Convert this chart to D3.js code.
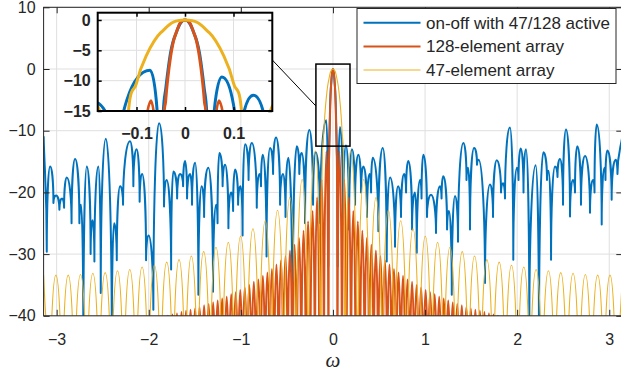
<!DOCTYPE html>
<html>
<head>
<meta charset="utf-8">
<script src="https://cdn.jsdelivr.net/npm/d3@7"></script>
<style>
  body { margin: 0; background: #fff; }
  svg { display: block; }
  text { font-family: "Liberation Sans", Arial, Helvetica, sans-serif; fill: #262626; }
</style>
</head>
<body>
<div id="chart"></div>
<script>
const width = 621, height = 374;

// ticks
const xTicks = [-3, -2, -1, 0, 1, 2, 3];
const yTicks = [-40, -30, -20, -10, 0, 10];
const insetXTicks = [-0.1, 0, 0.1];
const insetYTicks = [-15, -10, -5, 0];

const seriesNames = ['on-off with 47/128 active', '128-element array', '47-element array'];
const seriesColors = ['#0072BD', '#D95319', '#EDB120'];

// on-off array, peaks and dips: [omega, dB]
const onOff = [
  [-3.1416, -10.9], [-3.107, -29.6], [-3.071, -15.8], [-3.035, -21.7], [-3.006, -20.5], [-2.970, -22.8],
  [-2.941, -21.0], [-2.919, -22.5], [-2.890, -17.6], [-2.838, -25.0], [-2.800, -14.6], [-2.753, -25.0],
  [-2.735, -22.0], [-2.710, -45], [-2.673, -15.8], [-2.631, -30.0], [-2.610, -24.5], [-2.590, -31.2],
  [-2.547, -15.8], [-2.521, -36.3], [-2.466, -11.3], [-2.401, -45], [-2.376, -25], [-2.347, -31],
  [-2.311, -19], [-2.279, -22], [-2.203, -11.7], [-2.167, -19], [-2.132, -13], [-2.099, -21.5],
  [-2.072, -17], [-2.029, -31], [-2.002, -27], [-1.950, -39], [-1.888, -8.8], [-1.834, -22.3],
  [-1.806, -18], [-1.757, -32.5], [-1.733, -16.6], [-1.692, -21], [-1.660, -17], [-1.627, -19],
  [-1.606, -14.9], [-1.584, -21], [-1.551, -17], [-1.530, -22], [-1.497, -15.2], [-1.461, -36.6],
  [-1.426, -19], [-1.399, -24], [-1.353, -16.0], [-1.302, -36.1], [-1.269, -22], [-1.253, -25],
  [-1.233, -13.6], [-1.198, -19], [-1.171, -15.5], [-1.135, -25.8], [-1.106, -20], [-1.084, -23],
  [-1.063, -16.3], [-1.030, -22], [-1.003, -19], [-0.981, -27], [-0.954, -12.2], [-0.916, -18],
  [-0.881, -12.0], [-0.827, -22.5], [-0.797, -17], [-0.781, -19], [-0.762, -13.9], [-0.721, -30.4],
  [-0.683, -12.8], [-0.650, -17], [-0.618, -11.1], [-0.574, -22], [-0.542, -17], [-0.515, -24],
  [-0.484, -14.4], [-0.439, -45], [-0.393, -12.5], [-0.365, -17], [-0.339, -13.6], [-0.303, -25],
  [-0.256, -9.9], [-0.216, -22], [-0.189, -13.5], [-0.140, -25], [-0.072, -8.3], [-0.051, -32],
  [-0.045, -15.5], [-0.040, -11.5], [-0.030, -5.5], [-0.020, -2.5], [0, 0], [0.020, -2.5], [0.030, -5.5],
  [0.040, -11.5], [0.045, -15.5], [0.052, -32], [0.076, -9.4], [0.110, -25], [0.141, -12.4], [0.175, -26],
  [0.207, -13], [0.240, -22], [0.276, -13.9], [0.305, -20], [0.330, -15.8], [0.370, -24], [0.397, -17],
  [0.414, -20], [0.432, -14.4], [0.493, -26.3], [0.541, -12.8], [0.584, -31.2], [0.620, -17.6],
  [0.674, -28.8], [0.707, -19], [0.739, -24], [0.772, -17], [0.794, -20], [0.818, -14.9],
  [0.859, -26], [0.891, -20], [0.910, -29.8], [0.946, -18], [0.962, -21], [0.981, -13.9],
  [1.021, -24], [1.065, -20.4], [1.119, -26.6], [1.162, -19], [1.179, -21], [1.198, -17.4],
  [1.239, -26], [1.260, -23], [1.290, -36.6], [1.325, -20.6], [1.358, -28], [1.416, -12.0],
  [1.450, -18], [1.467, -16], [1.488, -26], [1.532, -12.8], [1.564, -15.5], [1.581, -14.7],
  [1.651, -34.7], [1.705, -18.7], [1.738, -24], [1.778, -14.8], [1.825, -20], [1.846, -18.5],
  [1.868, -21], [1.922, -9.5], [1.958, -30.9], [1.998, -16], [2.015, -18], [2.039, -12.9],
  [2.069, -20], [2.096, -13.0], [2.132, -42], [2.201, -15.6], [2.237, -45], [2.284, -13.5],
  [2.324, -18], [2.340, -16.5], [2.368, -30.9], [2.411, -15.8], [2.438, -17.5], [2.465, -14.6],
  [2.498, -22], [2.530, -9.8], [2.574, -23.9], [2.606, -18], [2.628, -20], [2.653, -12.5],
  [2.693, -22], [2.737, -14.1], [2.791, -23.3], [2.824, -18], [2.840, -20], [2.864, -9.0],
  [2.918, -25.2], [2.948, -16], [2.959, -18], [2.979, -13.2], [3.026, -21.2], [3.070, -14.7],
  [3.089, -17], [3.1416, -10.9]
];

// 128-element array: lobe peaks and nulls (nulls fall below the axis)
const full128 = [
  [-1.8162, -60], [-1.7917, -40.0], [-1.7671, -60], [-1.7426, -39.8], [-1.7181, -60], [-1.6935, -39.6],
  [-1.6690, -60], [-1.6444, -39.4], [-1.6199, -60], [-1.5953, -39.2], [-1.5708, -60], [-1.5462, -39.0],
  [-1.5217, -60], [-1.4972, -38.8], [-1.4726, -60], [-1.4481, -38.6], [-1.4235, -60], [-1.3990, -38.3],
  [-1.3744, -60], [-1.3499, -38.1], [-1.3254, -60], [-1.3008, -37.8], [-1.2763, -60], [-1.2517, -37.5],
  [-1.2272, -60], [-1.2026, -37.2], [-1.1781, -60], [-1.1536, -36.9], [-1.1290, -60], [-1.1045, -36.5],
  [-1.0799, -60], [-1.0554, -36.2], [-1.0308, -60], [-1.0063, -35.8], [-0.9817, -60], [-0.9572, -35.4],
  [-0.9327, -60], [-0.9081, -35.0], [-0.8836, -60], [-0.8590, -34.5], [-0.8345, -60], [-0.8099, -34.1],
  [-0.7854, -60], [-0.7609, -33.5], [-0.7363, -60], [-0.7118, -33.0], [-0.6872, -60], [-0.6627, -32.4],
  [-0.6381, -60], [-0.6136, -31.7], [-0.5890, -60], [-0.5645, -31.0], [-0.5400, -60], [-0.5154, -30.3],
  [-0.4909, -60], [-0.4663, -29.4], [-0.4418, -60], [-0.4172, -28.5], [-0.3927, -60], [-0.3682, -27.4],
  [-0.3436, -60], [-0.3191, -26.2], [-0.2945, -60], [-0.2700, -24.7], [-0.2454, -60], [-0.2209, -23.0],
  [-0.1963, -60], [-0.1718, -20.8], [-0.1473, -60], [-0.1227, -17.9], [-0.0982, -60], [-0.0700, -13.3],
  [-0.0491, -60], [-0.045, -20.9], [-0.040, -13.4], [-0.030, -6.2], [-0.020, -2.5], [0, 0],
  [0.020, -2.5], [0.030, -6.2], [0.040, -13.4], [0.045, -20.9], [0.0491, -60],
  [0.0700, -13.3], [0.0982, -60], [0.1227, -17.9], [0.1473, -60], [0.1718, -20.8], [0.1963, -60],
  [0.2209, -23.0], [0.2454, -60], [0.2700, -24.7], [0.2945, -60], [0.3191, -26.2], [0.3436, -60],
  [0.3682, -27.4], [0.3927, -60], [0.4172, -28.5], [0.4418, -60], [0.4663, -29.4], [0.4909, -60],
  [0.5154, -30.3], [0.5400, -60], [0.5645, -31.0], [0.5890, -60], [0.6136, -31.7], [0.6381, -60],
  [0.6627, -32.4], [0.6872, -60], [0.7118, -33.0], [0.7363, -60], [0.7609, -33.5], [0.7854, -60],
  [0.8099, -34.1], [0.8345, -60], [0.8590, -34.5], [0.8836, -60], [0.9081, -35.0], [0.9327, -60],
  [0.9572, -35.4], [0.9817, -60], [1.0063, -35.8], [1.0308, -60], [1.0554, -36.2], [1.0799, -60],
  [1.1045, -36.5], [1.1290, -60], [1.1536, -36.9], [1.1781, -60], [1.2026, -37.2], [1.2272, -60],
  [1.2517, -37.5], [1.2763, -60], [1.3008, -37.8], [1.3254, -60], [1.3499, -38.1], [1.3744, -60],
  [1.3990, -38.3], [1.4235, -60], [1.4481, -38.6], [1.4726, -60], [1.4972, -38.8], [1.5217, -60],
  [1.5462, -39.0], [1.5708, -60], [1.5953, -39.2], [1.6199, -60], [1.6444, -39.4], [1.6690, -60],
  [1.6935, -39.6], [1.7181, -60], [1.7426, -39.8], [1.7671, -60], [1.7917, -40.0], [1.8162, -60]
];

// 47-element array: lobe peaks and nulls
const full47 = [
  [-3.1416, -33.4], [-3.0746, -60], [-3.0080, -33.4], [-2.9410, -60], [-2.8743, -33.4], [-2.8073, -60],
  [-2.7406, -33.3], [-2.6736, -60], [-2.6069, -33.1], [-2.5399, -60], [-2.4732, -33.0], [-2.4062, -60],
  [-2.3395, -32.7], [-2.2726, -60], [-2.2058, -32.5], [-2.1389, -60], [-2.0721, -32.1], [-2.0052, -60],
  [-1.9384, -31.8], [-1.8715, -60], [-1.8047, -31.3], [-1.7378, -60], [-1.6710, -30.9], [-1.6042, -60],
  [-1.5374, -30.3], [-1.4705, -60], [-1.4037, -29.6], [-1.3368, -60], [-1.2700, -28.9], [-1.2031, -60],
  [-1.1363, -28.1], [-1.0694, -60], [-1.0026, -27.1], [-0.9358, -60], [-0.8689, -25.9], [-0.8021, -60],
  [-0.7352, -24.6], [-0.6684, -60], [-0.6016, -22.9], [-0.5347, -60], [-0.4679, -20.8], [-0.4010, -60],
  [-0.3342, -17.9], [-0.2674, -60], [-0.1910, -13.3], [-0.1337, -60], [-0.120, -19.0], [-0.100, -10.4],
  [-0.080, -5.9], [-0.050, -2.1], [0, 0], [0.050, -2.1], [0.080, -5.9], [0.100, -10.4], [0.120, -19.0],
  [0.1337, -60], [0.1910, -13.3], [0.2674, -60], [0.3342, -17.9], [0.4010, -60], [0.4679, -20.8],
  [0.5347, -60], [0.6016, -22.9], [0.6684, -60], [0.7352, -24.6], [0.8021, -60], [0.8689, -25.9],
  [0.9358, -60], [1.0026, -27.1], [1.0694, -60], [1.1363, -28.1], [1.2031, -60], [1.2700, -28.9],
  [1.3368, -60], [1.4037, -29.6], [1.4705, -60], [1.5374, -30.3], [1.6042, -60], [1.6710, -30.9],
  [1.7378, -60], [1.8047, -31.3], [1.8715, -60], [1.9384, -31.8], [2.0052, -60], [2.0721, -32.1],
  [2.1389, -60], [2.2058, -32.5], [2.2726, -60], [2.3395, -32.7], [2.4062, -60], [2.4732, -33.0],
  [2.5399, -60], [2.6069, -33.1], [2.6736, -60], [2.7406, -33.3], [2.8073, -60], [2.8743, -33.4],
  [2.9410, -60], [3.0080, -33.4], [3.0746, -60], [3.1416, -33.4]
];

// zoom rectangle on the main axes [omega0, omega1, dB0, dB1]
const zoomBox = [-0.185, 0.185, -12.5, 0.8];

const svg = d3.select('#chart').append('svg').attr('width', width).attr('height', height);

const x = d3.scaleLinear().domain([-Math.PI, Math.PI]).range([43.6, 622.3]);
const y = d3.scaleLinear().domain([-40, 10]).range([315.8, 7.3]);

// lobe-shaped path: round tops, cusps at nulls, smooth through other points
function lobePath(pts, xs, ys) {
  const p = pts.map(d => [xs(d[0]), ys(d[1])]);
  const n = p.length;
  const kind = p.map((d, i) => {
    if (i === 0 || i === n - 1) return 's';
    if (p[i - 1][1] > d[1] && p[i + 1][1] > d[1]) return 'peak';
    if (p[i - 1][1] < d[1] && p[i + 1][1] < d[1]) return 'dip';
    return 's';
  });
  const K = 0.55;
  function ctrl(i, j) {
    const P = p[i], Q = p[j];
    const dx = Q[0] - P[0], dy = Q[1] - P[1];
    if (kind[i] === 'peak') return [P[0] + K * dx, P[1]];
    if (kind[i] === 'dip') return [P[0], P[1] + K * dy];
    const a = p[Math.max(i - 1, 0)], b = p[Math.min(i + 1, n - 1)];
    const s = (b[1] - a[1]) / (b[0] - a[0]);
    return [P[0] + dx / 3, P[1] + s * dx / 3];
  }
  const path = d3.path();
  path.moveTo(p[0][0], p[0][1]);
  for (let i = 0; i < n - 1; i++) {
    const c1 = ctrl(i, i + 1), c2 = ctrl(i + 1, i);
    path.bezierCurveTo(c1[0], c1[1], c2[0], c2[1], p[i + 1][0], p[i + 1][1]);
  }
  return path.toString();
}

const defs = svg.append('defs');
defs.append('clipPath').attr('id', 'clipMain').append('rect')
  .attr('x', x(-Math.PI)).attr('y', y(10))
  .attr('width', x(Math.PI) - x(-Math.PI)).attr('height', y(-40) - y(10));

// grid
const grid = svg.append('g').attr('stroke', '#dfdfdf').attr('stroke-width', 1);
grid.selectAll('.gx').data(xTicks).enter().append('line')
  .attr('x1', d => x(d)).attr('x2', d => x(d)).attr('y1', y(-40)).attr('y2', y(10));
grid.selectAll('.gy').data(yTicks).enter().append('line')
  .attr('y1', d => y(d)).attr('y2', d => y(d)).attr('x1', x(-Math.PI)).attr('x2', x(Math.PI));

// series
const plot = svg.append('g').attr('clip-path', 'url(#clipMain)').attr('fill', 'none');
const seriesData = [onOff, full128, full47];
const mainWidths = [2, 2, 1.1];
seriesData.forEach((s, i) => {
  plot.append('path').attr('d', lobePath(s, x, y))
    .attr('stroke', seriesColors[i]).attr('stroke-width', mainWidths[i])
    .attr('stroke-linejoin', 'round');
});

// axes
const axisColor = '#262626';
const fmt = d3.format('');
function styleAxis(g) {
  g.select('.domain').remove();
  g.selectAll('.tick line').attr('stroke', axisColor);
  g.selectAll('.tick text').attr('fill', axisColor).style('font-size', '16px')
    .style('font-family', '"Liberation Sans", Arial, sans-serif');
}
svg.append('g').attr('transform', `translate(0,${y(-40)})`)
  .call(d3.axisBottom(x).tickValues(xTicks).tickFormat(fmt).tickSizeInner(-6).tickSizeOuter(0).tickPadding(18))
  .call(styleAxis);
svg.append('g').attr('transform', `translate(0,${y(10)})`)
  .call(d3.axisTop(x).tickValues(xTicks).tickSizeInner(-6).tickSizeOuter(0).tickFormat(''))
  .call(styleAxis);
svg.append('g').attr('transform', `translate(${x(-Math.PI)},0)`)
  .call(d3.axisLeft(y).tickValues(yTicks).tickFormat(fmt).tickSizeInner(-6).tickSizeOuter(0).tickPadding(8))
  .call(styleAxis);
svg.append('g').attr('transform', `translate(${x(Math.PI)},0)`)
  .call(d3.axisRight(y).tickValues(yTicks).tickSizeInner(-6).tickSizeOuter(0).tickFormat(''))
  .call(styleAxis);
svg.append('rect').attr('x', x(-Math.PI)).attr('y', y(10))
  .attr('width', x(Math.PI) - x(-Math.PI)).attr('height', y(-40) - y(10))
  .attr('fill', 'none').attr('stroke', axisColor).attr('stroke-width', 1);

svg.append('text').attr('x', x(0)).attr('y', 367)
  .attr('text-anchor', 'middle')
  .style('font-family', '"Liberation Serif", serif').style('font-style', 'italic').style('font-size', '21px')
  .text('ω');

// zoom rectangle
svg.append('rect')
  .attr('x', x(zoomBox[0])).attr('y', y(zoomBox[3]))
  .attr('width', x(zoomBox[1]) - x(zoomBox[0])).attr('height', y(zoomBox[2]) - y(zoomBox[3]))
  .attr('fill', 'none').attr('stroke', '#000').attr('stroke-width', 1.5);

// legend
const legend = svg.append('g');
legend.append('rect').attr('x', 357).attr('y', 8.5).attr('width', 259).attr('height', 75)
  .attr('fill', '#fff').attr('stroke', axisColor).attr('stroke-width', 1);
const legendRows = [22.7, 46.5, 70];
seriesNames.forEach((name, i) => {
  legend.append('line').attr('x1', 363.5).attr('x2', 420.5)
    .attr('y1', legendRows[i]).attr('y2', legendRows[i])
    .attr('stroke', seriesColors[i]).attr('stroke-width', mainWidths[i]);
  legend.append('text').attr('x', 426).attr('y', legendRows[i]).attr('dy', '0.35em')
    .style('font-size', '17px').text(name);
});

// inset
const xi = d3.scaleLinear().domain([-0.18, 0.18]).range([97.7, 272.3]);
const yi = d3.scaleLinear().domain([-15, 1.2]).range([111, 12.7]);

svg.append('line')
  .attr('x1', xi(0.18)).attr('y1', 60).attr('x2', x(zoomBox[0])).attr('y2', 106)
  .attr('stroke', '#000').attr('stroke-width', 1);

const inset = svg.append('g');
defs.append('clipPath').attr('id', 'clipInset').append('rect')
  .attr('x', xi(-0.18)).attr('y', yi(1.2))
  .attr('width', xi(0.18) - xi(-0.18)).attr('height', yi(-15) - yi(1.2));
inset.append('rect').attr('x', xi(-0.18)).attr('y', yi(1.2))
  .attr('width', xi(0.18) - xi(-0.18)).attr('height', yi(-15) - yi(1.2)).attr('fill', '#fff');
const igrid = inset.append('g').attr('stroke', '#dfdfdf').attr('stroke-width', 1);
igrid.selectAll('.gx').data(insetXTicks).enter().append('line')
  .attr('x1', d => xi(d)).attr('x2', d => xi(d)).attr('y1', yi(-15)).attr('y2', yi(1.2));
igrid.selectAll('.gy').data(insetYTicks).enter().append('line')
  .attr('y1', d => yi(d)).attr('y2', d => yi(d)).attr('x1', xi(-0.18)).attr('x2', xi(0.18));
const iplot = inset.append('g').attr('clip-path', 'url(#clipInset)').attr('fill', 'none');
seriesData.forEach((s, i) => {
  iplot.append('path').attr('d', lobePath(s, xi, yi))
    .attr('stroke', seriesColors[i]).attr('stroke-width', 3).attr('stroke-linejoin', 'round');
});
function styleInset(g) {
  g.select('.domain').remove();
  g.selectAll('.tick line').attr('stroke', '#000').attr('stroke-width', 1.5);
  g.selectAll('.tick text').attr('fill', '#000').style('font-size', '16px').style('font-weight', 'bold')
    .style('font-family', '"Liberation Sans", Arial, sans-serif');
}
inset.append('g').attr('transform', `translate(0,${yi(-15)})`)
  .call(d3.axisBottom(xi).tickValues(insetXTicks).tickSizeInner(-4).tickSizeOuter(0).tickPadding(17)
    .tickFormat(fmt))
  .call(styleInset);
inset.append('g').attr('transform', `translate(0,${yi(1.2)})`)
  .call(d3.axisTop(xi).tickValues(insetXTicks).tickSizeInner(-4).tickSizeOuter(0).tickFormat(''))
  .call(styleInset);
inset.append('g').attr('transform', `translate(${xi(-0.18)},0)`)
  .call(d3.axisLeft(yi).tickValues(insetYTicks).tickFormat(fmt).tickSizeInner(-4).tickSizeOuter(0).tickPadding(7))
  .call(styleInset);
inset.append('g').attr('transform', `translate(${xi(0.18)},0)`)
  .call(d3.axisRight(yi).tickValues(insetYTicks).tickSizeInner(-4).tickSizeOuter(0).tickFormat(''))
  .call(styleInset);
inset.append('rect').attr('x', xi(-0.18)).attr('y', yi(1.2))
  .attr('width', xi(0.18) - xi(-0.18)).attr('height', yi(-15) - yi(1.2))
  .attr('fill', 'none').attr('stroke', '#000').attr('stroke-width', 2);
</script>
</body>
</html>
